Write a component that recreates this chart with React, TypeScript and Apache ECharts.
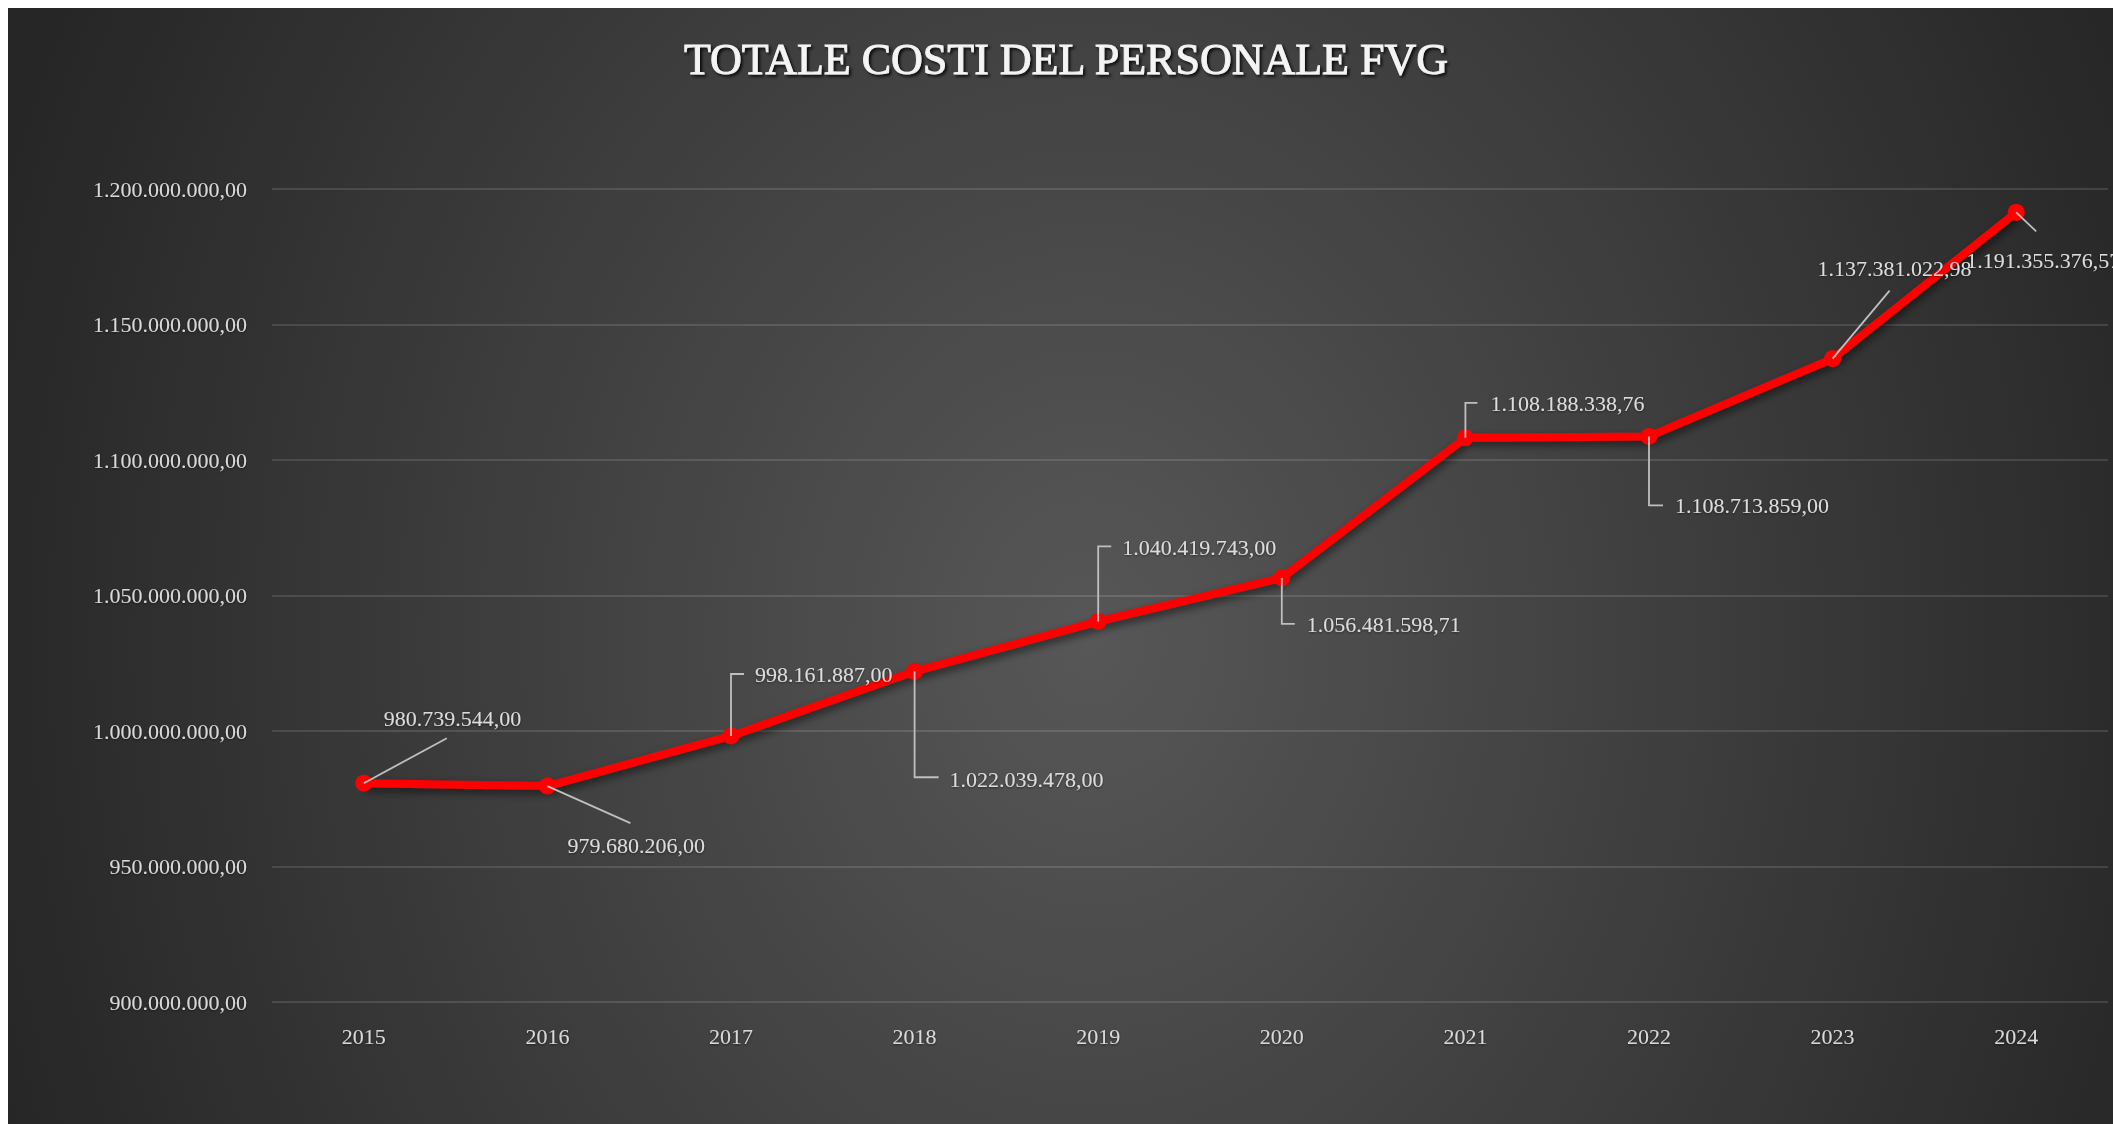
import React, { useEffect, useRef } from "react";
import * as echarts from "echarts";

// ---- data ----
const years = ["2015", "2016", "2017", "2018", "2019", "2020", "2021", "2022", "2023", "2024"];
const costs = [
  980739544.0,
  979680206.0,
  998161887.0,
  1022039478.0,
  1040419743.0,
  1056481598.71,
  1108188338.76,
  1108713859.0,
  1137381022.98,
  1191355376.57,
];
const yMin = 900000000;
const yMax = 1200000000;
const yStep = 50000000;
const chartTitle = "TOTALE COSTI DEL PERSONALE FVG";

// ---- label placement (pixel offsets from each point: text left edge, text centre y) ----
const labelOffsets: [number, number][] = [
  [20, -65],
  [20, 59],
  [24, -61],
  [35, 108],
  [24, -74],
  [25, 47],
  [25, -34],
  [26, 69],
  [-15, -90],
  [-50, 48],
];
// leader line shapes, pixel offsets from each point
const leaderPaths: [number, number][][] = [
  [[0, 0], [83, -45]],
  [[0, 0], [83, 37]],
  [[0, 0], [0, -62], [13, -62]],
  [[0, 0], [0, 106], [24, 106]],
  [[0, 0], [0, -75], [13, -75]],
  [[0, 0], [0, 46], [13, 46]],
  [[0, 0], [0, -35], [12, -35]],
  [[0, 0], [0, 69], [14, 69]],
  [[0, 0], [57, -68]],
  [[0, 0], [20, 19]],
];

const FONT = '"Liberation Serif", "Times New Roman", serif';

function fmtIt(v: number): string {
  const neg = v < 0;
  const [intPart, dec] = Math.abs(v).toFixed(2).split(".");
  const withDots = intPart.replace(/\B(?=(\d{3})+(?!\d))/g, ".");
  return (neg ? "-" : "") + withDots + "," + dec;
}

export default function App() {
  const ref = useRef<HTMLDivElement>(null);

  useEffect(() => {
    if (!ref.current) return;
    const chart = echarts.init(ref.current, undefined, { renderer: "svg" });
    const option: any = {
      animation: false,
      backgroundColor: "transparent",
      graphic: [
        {
          type: "text",
          x: 1058,
          y: 51,
          z: 10,
          style: {
            text: chartTitle,
            fill: "#f4f4f4",
            stroke: "#f4f4f4",
            lineWidth: 0.9,
            fontFamily: FONT,
            fontSize: 44,
            align: "center",
            verticalAlign: "middle",
            textShadowColor: "rgba(0,0,0,0.85)",
            textShadowBlur: 3,
            textShadowOffsetX: 2,
            textShadowOffsetY: 2,
          },
        },
      ],
      grid: { left: 264, right: 5, top: 181, bottom: 122, containLabel: false },
      xAxis: {
        type: "category",
        data: years,
        boundaryGap: true,
        axisLine: { show: false },
        axisTick: { show: false },
        splitLine: { show: false },
        axisLabel: {
          color: "#d9d9d9",
          fontFamily: FONT,
          fontSize: 22,
          margin: 23,
          textShadowColor: "rgba(0,0,0,0.5)",
          textShadowBlur: 2,
          textShadowOffsetY: 1,
        },
      },
      yAxis: {
        type: "value",
        min: yMin,
        max: yMax,
        interval: yStep,
        axisLine: { show: false },
        axisTick: { show: false },
        axisLabel: {
          color: "#d9d9d9",
          fontFamily: FONT,
          fontSize: 22,
          margin: 25,
          formatter: (v: number) => fmtIt(v),
          textShadowColor: "rgba(0,0,0,0.5)",
          textShadowBlur: 2,
          textShadowOffsetY: 1,
        },
        splitLine: { lineStyle: { color: "rgba(255,255,255,0.12)", width: 2 } },
      },
      series: [
        {
          type: "line",
          z: 3,
          data: costs.map((v, i) => ({ value: v, label: { offset: labelOffsets[i] } })),
          symbol: "circle",
          symbolSize: 17,
          showSymbol: true,
          itemStyle: { color: "#ff0000" },
          lineStyle: {
            color: "#ff0000",
            width: 8,
            shadowColor: "rgba(0,0,0,0.55)",
            shadowBlur: 8,
            shadowOffsetX: 2,
            shadowOffsetY: 4,
          },
          label: {
            show: true,
            position: "inside",
            align: "left",
            verticalAlign: "middle",
            color: "#dcdcdc",
            fontFamily: FONT,
            fontSize: 22,
            textBorderWidth: 0,
            textBorderColor: "transparent",
            textShadowColor: "rgba(0,0,0,0.5)",
            textShadowBlur: 2,
            textShadowOffsetY: 1,
            formatter: (p: any) => fmtIt(p.value),
          },
        },
        {
          type: "custom",
          z: 5,
          silent: true,
          data: costs.map((v, i) => [i, v]),
          encode: { x: 0, y: 1 },
          renderItem: (params: any, api: any) => {
            const idx = params.dataIndex;
            const p = api.coord([api.value(0), api.value(1)]);
            const pts = leaderPaths[idx].map(([dx, dy]) => [p[0] + dx, p[1] + dy]);
            return {
              type: "polyline",
              shape: { points: pts },
              style: { stroke: "#bfbfbf", lineWidth: 1.8, fill: "none" },
            };
          },
        },
      ],
    };
    chart.setOption(option);
    return () => chart.dispose();
  }, []);

  return (
    <div
      ref={ref}
      style={{
        position: "fixed",
        left: 8,
        top: 8,
        width: 2105,
        height: 1116,
        background:
          "radial-gradient(ellipse 1150px 1400px at 1082px 632px, #575757 0%, #262626 100%)",
      }}
    />
  );
}
